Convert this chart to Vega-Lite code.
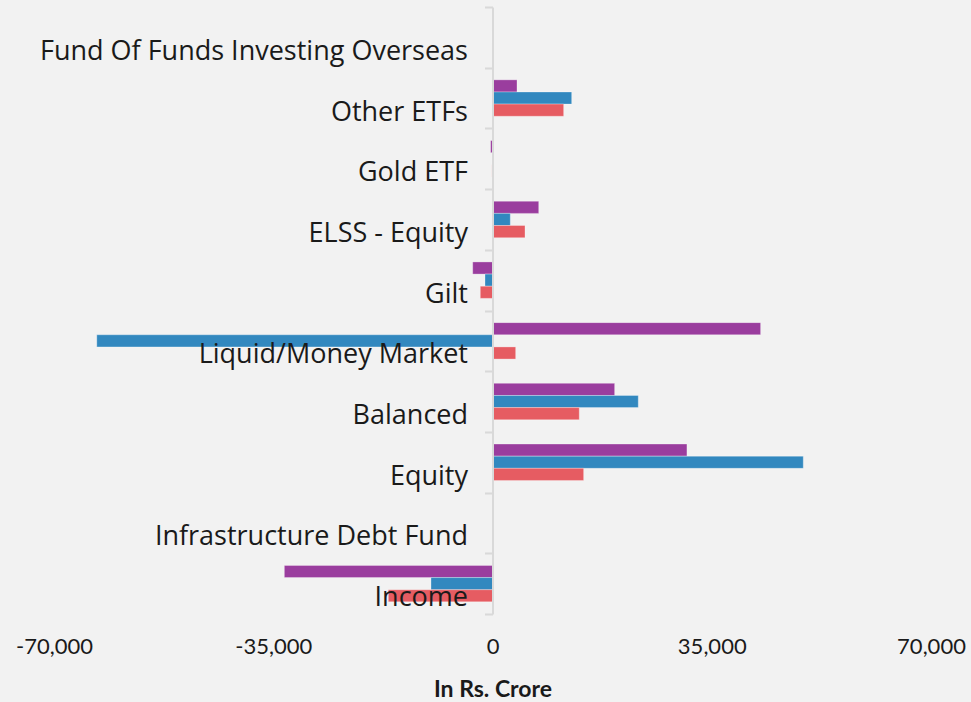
{
  "$schema": "https://vega.github.io/schema/vega-lite/v6.json",
  "autosize": "none",
  "width": 877,
  "height": 607,
  "padding": {"left": 54, "top": 7, "right": 40, "bottom": 88},
  "background": "#F2F2F2",
  "config": {"view": {"stroke": null}},
  "data": {
    "values": [
      {"category": "Fund Of Funds Investing Overseas", "series": "Series 1", "value": 0},
      {"category": "Fund Of Funds Investing Overseas", "series": "Series 2", "value": -60},
      {"category": "Fund Of Funds Investing Overseas", "series": "Series 3", "value": 0},
      {"category": "Other ETFs", "series": "Series 1", "value": 3910},
      {"category": "Other ETFs", "series": "Series 2", "value": 12640},
      {"category": "Other ETFs", "series": "Series 3", "value": 11360},
      {"category": "Gold ETF", "series": "Series 1", "value": -300},
      {"category": "Gold ETF", "series": "Series 2", "value": -60},
      {"category": "Gold ETF", "series": "Series 3", "value": -90},
      {"category": "ELSS - Equity", "series": "Series 1", "value": 7380},
      {"category": "ELSS - Equity", "series": "Series 2", "value": 2840},
      {"category": "ELSS - Equity", "series": "Series 3", "value": 5190},
      {"category": "Gilt", "series": "Series 1", "value": -3160},
      {"category": "Gilt", "series": "Series 2", "value": -1200},
      {"category": "Gilt", "series": "Series 3", "value": -1950},
      {"category": "Liquid/Money Market", "series": "Series 1", "value": 42800},
      {"category": "Liquid/Money Market", "series": "Series 2", "value": -63170},
      {"category": "Liquid/Money Market", "series": "Series 3", "value": 3700},
      {"category": "Balanced", "series": "Series 1", "value": 19500},
      {"category": "Balanced", "series": "Series 2", "value": 23270},
      {"category": "Balanced", "series": "Series 3", "value": 13850},
      {"category": "Equity", "series": "Series 1", "value": 31040},
      {"category": "Equity", "series": "Series 2", "value": 49610},
      {"category": "Equity", "series": "Series 3", "value": 14550},
      {"category": "Infrastructure Debt Fund", "series": "Series 1", "value": 120},
      {"category": "Infrastructure Debt Fund", "series": "Series 2", "value": 0},
      {"category": "Infrastructure Debt Fund", "series": "Series 3", "value": 0},
      {"category": "Income", "series": "Series 1", "value": -33230},
      {"category": "Income", "series": "Series 2", "value": -9820},
      {"category": "Income", "series": "Series 3", "value": -16630}
    ]
  },
  "mark": {"type": "bar", "stroke": "white", "strokeOpacity": 0.3, "strokeWidth": 1},
  "encoding": {
    "y": {
      "field": "category",
      "type": "nominal",
      "sort": null,
      "scale": {"paddingInner": 0, "paddingOuter": 0},
      "axis": {
        "title": null,
        "orient": "left",
        "offset": -438.5,
        "zindex": 1,
        "domainColor": "#D9D9D9",
        "domainWidth": 2,
        "tickColor": "#D9D9D9",
        "tickWidth": 2,
        "tickSize": 8,
        "tickBand": "extent",
        "labelFont": "Open Sans",
        "labelFontSize": 27,
        "labelColor": "#1A1A1A",
        "labelPadding": 17,
        "labelOffset": 14,
        "labelLimit": 600
      }
    },
    "yOffset": {"field": "series", "type": "nominal", "sort": ["Series 1", "Series 2", "Series 3"], "scale": {"paddingInner": 0, "paddingOuter": 1.23}},
    "x": {
      "field": "value",
      "type": "quantitative",
      "scale": {"domain": [-70000, 70000], "nice": false},
      "axis": {
        "values": [-70000, -35000, 0, 35000, 70000],
        "format": ",.0f",
        "labelExpr": "replace(datum.label, '\u2212', '-')",
        "labelFlush": false,
        "grid": false,
        "domain": false,
        "ticks": false,
        "labelFont": "Lato",
        "labelFontSize": 22,
        "labelColor": "#1A1A1A",
        "labelPadding": 22,
        "title": "In Rs. Crore",
        "titleFont": "Lato",
        "titleFontSize": 23,
        "titleFontWeight": "bold",
        "titleColor": "#1A1A1A",
        "titlePadding": 21
      }
    },
    "color": {
      "field": "series",
      "type": "nominal",
      "scale": {"domain": ["Series 1", "Series 2", "Series 3"], "range": ["#9A3D9E", "#3288BF", "#E65C62"]},
      "legend": null
    }
  }
}
